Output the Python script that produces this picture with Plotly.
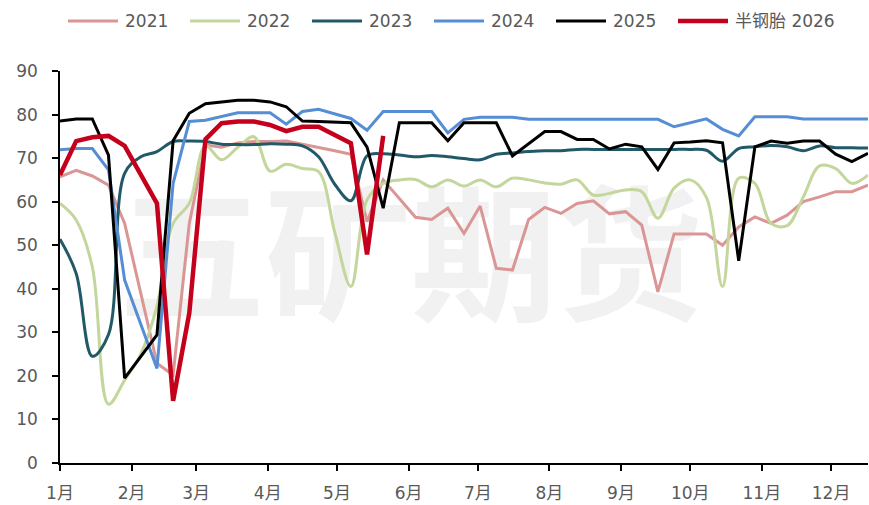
import pandas as pd
import plotly.graph_objects as go

# 半钢胎开工率（周度），按年份对比
WEEK_START = "2026-01-01"
AXIS_END = "2026-12-17"
MONTH_LABELS = [f"{m}月" for m in range(1, 13)]

Y2021 = [65.7, 67.2, 65.9, 63.8, 55.0, 39.0, 22.9, 20.2, 55.0, 73.0,
         72.5, 73.5, 73.8, 73.8, 73.9, 73.2, 72.5, 71.7, 70.9, 55.4,
         65.0, 60.7, 56.4, 55.9, 58.5, 52.7, 59.0, 44.7, 44.3, 55.9,
         58.7, 57.3, 59.6, 60.2, 57.2, 57.7, 54.6, 39.3, 52.6, 52.6,
         52.6, 50.0, 54.2, 56.5, 55.0, 56.9, 60.0, 61.1, 62.3, 62.3,
         63.8]
Y2022 = [59.6, 55.8, 45.0, 13.5, 19.0, 25.0, 36.0, 55.0, 59.6, 72.8,
         69.6, 72.5, 74.9, 67.0, 68.6, 67.6, 66.9, 53.0, 40.5, 60.4,
         64.2, 65.0, 65.1, 63.4, 65.0, 63.6, 65.0, 63.4, 65.4, 65.0,
         64.3, 64.0, 65.0, 61.5, 61.9, 62.7, 62.3, 56.2, 63.1, 65.0,
         61.0, 40.5, 65.4, 64.2, 55.0, 54.5, 61.1, 68.2, 67.6, 64.2,
         66.1]
Y2023 = [51.4, 43.5, 24.5, 29.5, 66.5, 70.3, 71.5, 73.8, 73.9, 73.8,
         73.2, 73.1, 73.1, 73.3, 73.2, 72.8, 70.3, 64.0, 60.2, 70.5,
         71.0, 70.7, 70.3, 70.6, 70.3, 69.9, 69.6, 70.9, 71.2, 71.5,
         71.7, 71.7, 72.0, 72.0, 72.0, 72.0, 72.0, 72.0, 72.0, 72.0,
         71.8, 69.3, 72.2, 72.6, 72.9, 72.6, 71.7, 72.8, 72.4, 72.4,
         72.3]
Y2024 = [71.9, 72.2, 72.2, 67.3, 42.0, 31.9, 21.7, 64.2, 78.4, 78.7,
         79.6, 80.4, 80.4, 80.4, 77.8, 80.7, 81.2, 80.1, 79.1, 76.4,
         80.7, 80.7, 80.7, 80.7, 75.8, 78.9, 79.4, 79.4, 79.4, 78.9,
         78.9, 78.9, 78.9, 78.9, 78.9, 78.9, 78.9, 78.9, 77.2, 78.1,
         79.0, 76.6, 75.1, 79.5, 79.5, 79.5, 79.0, 79.0, 79.0, 79.0,
         79.0]
Y2025 = [78.5, 79.0, 79.0, 70.7, 19.5, 24.5, 29.4, 74.0, 80.3, 82.5,
         82.9, 83.3, 83.3, 82.9, 81.8, 78.5, 78.4, 78.3, 78.1, 72.5,
         58.5, 78.1, 78.1, 78.1, 74.0, 78.1, 78.1, 78.1, 70.5, 73.3,
         76.1, 76.1, 74.3, 74.3, 72.1, 73.2, 72.6, 67.4, 73.5, 73.7,
         74.0, 73.5, 46.4, 72.6, 73.9, 73.4, 73.9, 73.9, 70.9, 69.2,
         71.1]
Y2026 = [66.1, 73.9, 74.8, 75.1, 72.8, 66.2, 59.6, 14.3, 34.4, 74.3,
         78.0, 78.4, 78.4, 77.6, 76.2, 77.2, 77.2, 75.3, 73.4, 47.9,
         75.1]

weeks = pd.date_range(WEEK_START, periods=len(Y2021), freq="7D")
month_starts = pd.date_range(WEEK_START, periods=12, freq="MS")

series = [
    ("2021", Y2021, "#d99694", 3, "linear"),
    ("2022", Y2022, "#c3d69b", 3, "spline"),
    ("2023", Y2023, "#215968", 3, "spline"),
    ("2024", Y2024, "#558ed5", 3, "linear"),
    ("2025", Y2025, "#000000", 3, "linear"),
    ("半钢胎 2026", Y2026, "#c4001c", 4.5, "linear"),
]

W, H = 869, 505
L, R, T, B = 60, 1, 71, 42
PW, PH = W - L - R, H - T - B

font = dict(family="DejaVu Sans, Noto Sans CJK SC, sans-serif", size=17, color="#595959")

fig = go.Figure()
for name, vals, color, width, shape in series:
    fig.add_trace(go.Scatter(
        x=weeks[:len(vals)], y=vals, name=name, mode="lines",
        line=dict(color=color, width=width, shape=shape),
    ))

# legend drawn by hand so the sample lines are as long as in the original
shapes, annotations = [], []
leg_y = (H - B - 21) / PH
for i, (name, _, color, width, _) in enumerate(series):
    x0 = 68 + i * 122
    shapes.append(dict(
        type="line", xref="paper", yref="paper",
        x0=(x0 - L) / PW, x1=(x0 + 50 - L) / PW, y0=leg_y, y1=leg_y,
        line=dict(color=color, width=width),
    ))
    annotations.append(dict(
        xref="paper", yref="paper", x=(x0 + 55 - L) / PW, y=leg_y,
        xanchor="left", yanchor="middle", text=name, showarrow=False, font=font,
    ))

# watermark, behind the lines
wm_cx, wm_cy = (411 - L) / PW, 0.495
shapes.append(dict(
    type="rect", xref="paper", yref="paper",
    x0=wm_cx - 0.46, x1=wm_cx + 0.46, y0=wm_cy - 0.18, y1=wm_cy + 0.18,
    line=dict(width=0), fillcolor="rgba(0,0,0,0)", layer="below",
    label=dict(text="<b>五矿期货</b>", font=dict(size=146, color="#f1f1f1",
               family="Noto Sans CJK SC"), textposition="middle center"),
))

fig.update_layout(
    width=W, height=H,
    margin=dict(l=L, r=R, t=T, b=B),
    paper_bgcolor="white", plot_bgcolor="white",
    font=font, showlegend=False,
    shapes=shapes, annotations=annotations,
)
fig.update_xaxes(
    type="date", range=[WEEK_START, AXIS_END],
    tickvals=month_starts, ticktext=MONTH_LABELS,
    ticks="outside", ticklen=6, tickcolor="black", tickwidth=1.5,
    showline=True, linecolor="black", linewidth=1.5,
    showgrid=False, zeroline=False, ticklabelstandoff=8,
)
fig.update_yaxes(
    range=[0, 90], dtick=10,
    ticks="outside", ticklen=6, tickcolor="black", tickwidth=1.5,
    showline=True, linecolor="black", linewidth=1.5,
    showgrid=False, zeroline=False, ticklabelstandoff=11,
)

fig.write_html("out.html", config={"displayModeBar": False},
               post_script="document.body.style.margin='0';")
